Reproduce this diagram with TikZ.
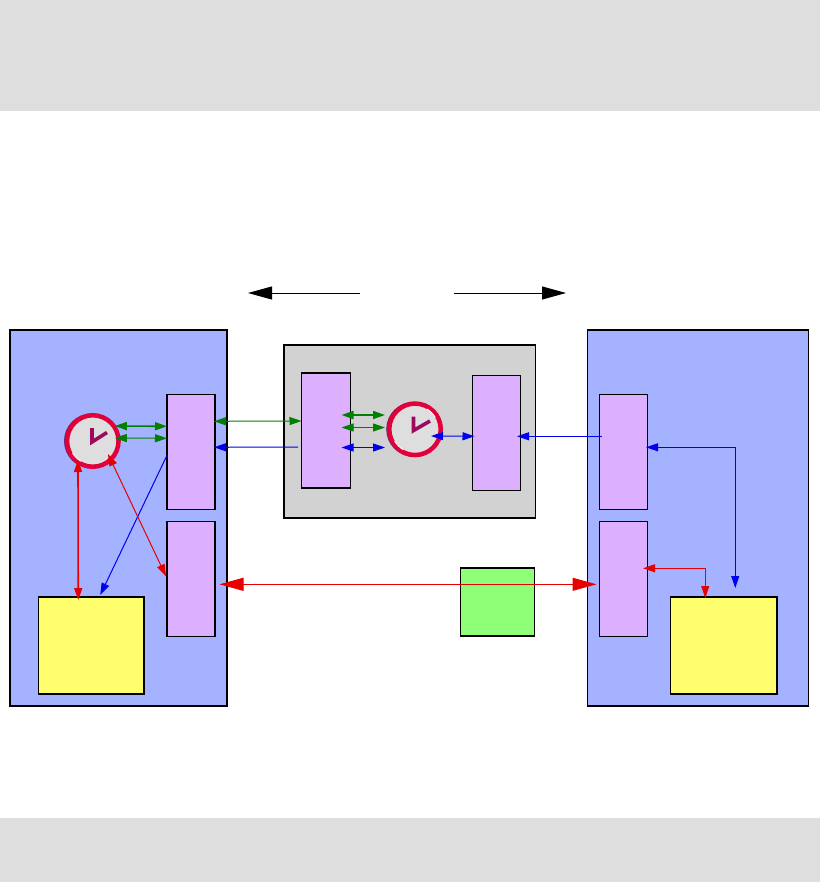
\documentclass[tikz,border=0pt]{standalone}
\usetikzlibrary{arrows.meta,calc}
\definecolor{panelblue}{HTML}{A5B2FF}
\definecolor{panelgray}{HTML}{D2D2D2}
\definecolor{bandgray}{HTML}{DEDEDE}
\definecolor{boxpurple}{HTML}{DDB0FF}
\definecolor{boxyellow}{HTML}{FFFF6E}
\definecolor{boxgreen}{HTML}{90FF78}
\definecolor{ringred}{HTML}{E2003A}
\definecolor{ringshade}{HTML}{6A2A70}
\definecolor{handcol}{HTML}{9B0A5E}
\definecolor{linkgreen}{HTML}{008000}
\definecolor{linkblue}{HTML}{0000F0}
\definecolor{linkred}{HTML}{E60000}
\tikzset{
  every node/.style={inner sep=0pt,outer sep=0pt},
  panel/.style={draw=black,line width=1.1pt,anchor=north west},
  heavy/.style={draw=black,line width=2pt,line cap=butt},
  band/.style={fill=bandgray,draw=none,anchor=north west},
  clockface/.style={circle,draw=ringred,fill=bandgray,line width=4.5pt,minimum size=51.5pt},
  clockshade/.style={circle,fill=ringshade,draw=none,minimum size=55pt},
  clockhand/.style={draw=handcol,line width=3.6pt,line join=miter},
  glint/.style={draw=white,line width=.9pt},
  linkthin/.style={line width=1pt,{Triangle[length=12pt,width=8pt]}-{Triangle[length=12pt,width=8pt]}},
  linkthick/.style={line width=1.6pt,{Triangle[length=12pt,width=8pt]}-{Triangle[length=12pt,width=8pt]}},
  linkback/.style={line width=1pt,{Triangle[length=12pt,width=8pt]}-},
  linkbig/.style={line width=1pt,{Triangle[length=24pt,width=13pt]}-{Triangle[length=24pt,width=13pt]}},
  lead/.style={line width=1pt,draw=black,-{Triangle[length=24pt,width=13pt]}}
}
\begin{document}
\begin{tikzpicture}[x=1pt,y=-1pt]
\useasboundingbox (0,0) rectangle (820,882);
\node[band,minimum width=820pt,minimum height=111.5pt] (topband) at (0,0) {};
\node[band,minimum width=820pt,minimum height=64pt] (botband) at (0,818) {};
% panels
\node[panel,fill=panelblue,minimum width=217pt,minimum height=376pt] (lp) at (10,330) {};
\node[panel,fill=panelgray,minimum width=251.5pt,minimum height=173pt] (cp) at (284,345) {};
\node[panel,fill=panelblue,minimum width=221pt,minimum height=376pt] (rp) at (587.5,330) {};
\draw[heavy] (lp.south west) -- (lp.north west) -- (lp.north east);
\draw[heavy] (cp.south west) -- (cp.north west);
\draw[heavy] (rp.north west) -- (rp.north east);
% boxes
\node[panel,fill=boxpurple,minimum width=48pt,minimum height=115pt] (l1) at (167,394.3) {};
\node[panel,fill=boxpurple,minimum width=48pt,minimum height=115pt] (l2) at (167,521.3) {};
\node[panel,fill=boxpurple,minimum width=49pt,minimum height=115pt] (c1) at (301.5,373) {};
\node[panel,fill=boxpurple,minimum width=48pt,minimum height=115pt] (c2) at (472.5,375.3) {};
\node[panel,fill=boxpurple,minimum width=48pt,minimum height=115pt] (r1) at (599.5,394.3) {};
\node[panel,fill=boxpurple,minimum width=48pt,minimum height=115pt] (r2) at (599.5,521.3) {};
\node[panel,fill=boxyellow,minimum width=105.5pt,minimum height=97pt] (yl) at (38.5,597) {};
\node[panel,fill=boxyellow,minimum width=106.5pt,minimum height=97pt] (yr) at (670.5,597) {};
\node[panel,fill=boxgreen,minimum width=74pt,minimum height=68pt] (gb) at (460.5,568) {};
\draw[heavy] (l1.south west) -- (l1.north west);
\draw[heavy] (l2.south west) -- (l2.north west);
\draw[heavy] (c1.north west) -- (c1.north east);
\draw[heavy] (c1.south west) -- (c1.south east);
\draw[heavy] (yl.north west) -- (yl.north east);
\draw[heavy] (yr.north west) -- (yr.north east) -- (yr.south east);
\draw[heavy] (gb.north west) -- (gb.north east);
% clocks
\node[clockshade] (cls) at (91.5,441) {};
\node[clockface] (cl) at (92.8,441) {};
\draw[glint] ($(cl)+(120:23.5)$) arc[start angle=120,end angle=150,radius=23.5];
\draw[clockhand] (92,428) -- (92,442) -- (107,432.5);
\node[clockshade] (ccs) at (413.7,429.3) {};
\node[clockface] (cc) at (415,429.3) {};
\draw[glint] ($(cc)+(120:23.5)$) arc[start angle=120,end angle=150,radius=23.5];
\draw[glint] ($(cc)+(-60:23.5)$) arc[start angle=-60,end angle=-30,radius=23.5];
\draw[clockhand] (413.5,416.5) -- (413.5,430.5) -- (430,421);
% direction arrows
\coordinate (dl0) at (360,293);
\coordinate (dl1) at (248,293);
\coordinate (dr0) at (454,293);
\coordinate (dr1) at (566,293);
\draw[lead] (dl0) -- (dl1);
\draw[lead] (dr0) -- (dr1);
% green links
\draw[linkthick,linkgreen] ($(cl)+(22,-15)$) -- ($(l1.west)+(0,-25.5)$);
\draw[linkthin,linkgreen] ($(cl)+(22,-3)$) -- ($(l1.west)+(0,-13.5)$);
\draw[linkthin,linkgreen] ($(l1.east)+(-1,-30.5)$) -- ($(c1.west)+(0,-9.5)$);
\draw[linkthick,linkgreen] ($(c1.east)+(-9,-15.5)$) -- ($(cc)+(-30,-14.3)$);
\draw[linkthin,linkgreen] ($(c1.east)+(-9,-3)$) -- ($(cc)+(-30,-1.8)$);
% blue links
\draw[linkback,linkblue] ($(l1.east)+(-1,-4.5)$) -- ($(c1.west)+(-3.5,16.5)$);
\draw[linkthin,linkblue] ($(c1.east)+(-9,17)$) -- ($(cc)+(-30,18.2)$);
\draw[linkthin,linkblue] ($(cc)+(16,6.7)$) -- ($(c2.west)+(2,3.5)$);
\draw[linkback,linkblue] ($(c2.east)+(-3.5,3.5)$) -- ($(r1.west)+(2,-15.5)$);
\draw[linkthin,linkblue] ($(r1.east)+(-1.5,-4.5)$) -| ($(yr.north)+(11.5,-9)$);
\draw[linkback,linkblue] ($(yl.north)+(9,-2)$) -- ($(l1.west)+(0,3.5)$);
% red links
\draw[linkthin,linkred] ($(r2.east)+(-4.5,-10.5)$) -| ($(yr.north)+(-18.5,1)$);
\draw[linkbig,linkred] ($(l2.east)+(4.5,5.5)$) -- ($(r2.west)+(-3,5.5)$);
\draw[linkthick,linkred] ($(cl)+(-14.8,19)$) -- ($(yl.north)+(-13,3)$);
\draw[linkthin,linkred] ($(cl)+(15.2,13)$) -- ($(l2.west)+(-1,-2.5)$);
\end{tikzpicture}
\end{document}
